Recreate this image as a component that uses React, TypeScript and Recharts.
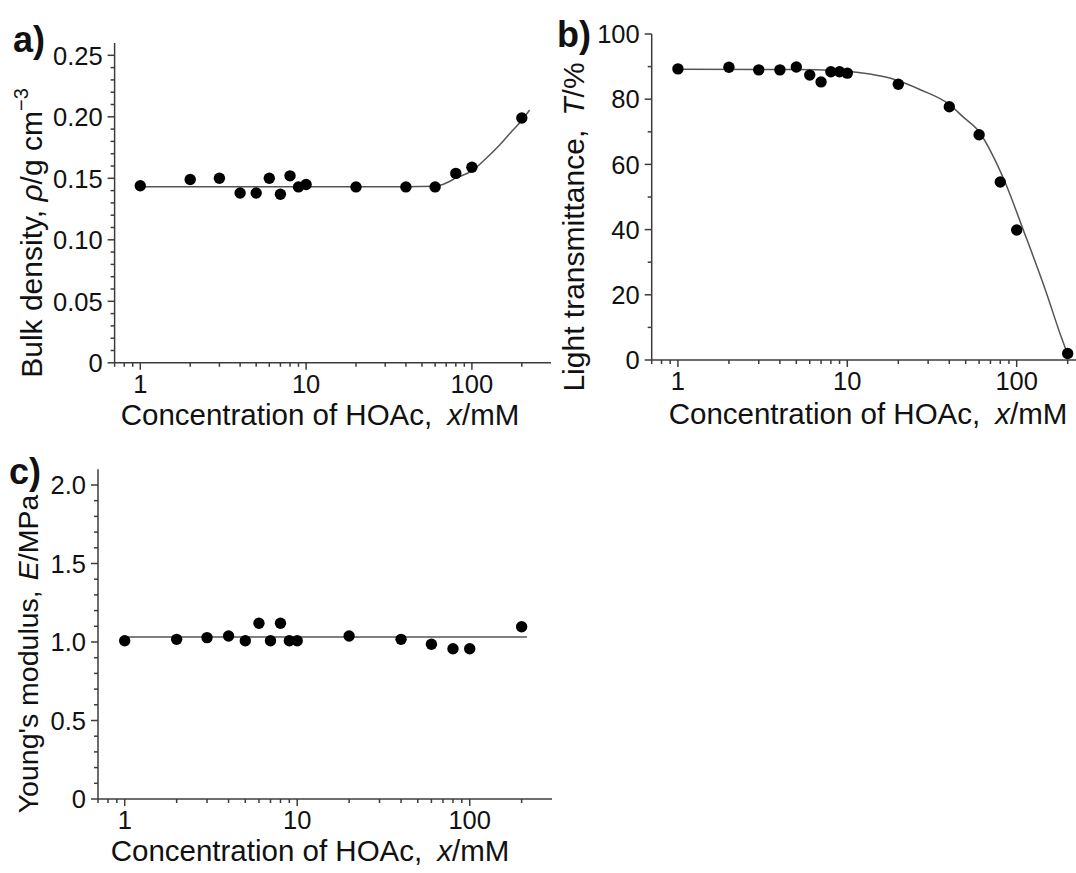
import React from 'react';
import { ComposedChart, Line, Scatter, XAxis, YAxis } from 'recharts';

const FONT = '"Liberation Sans", Arial, Helvetica, sans-serif';
const AXIS = '#3c3c3c';
const FIT = '#555555';
const TEXT = '#111111';

// ---- data ----
const concentrations = [1, 2, 3, 4, 5, 6, 7, 8, 9, 10, 20, 40, 60, 80, 100, 200];
const bulkDensity = [0.144, 0.149, 0.150, 0.138, 0.138, 0.150, 0.137, 0.152, 0.143, 0.145, 0.143, 0.143, 0.143, 0.154, 0.159, 0.199];
const transmittance = [89.3, 89.8, 89.0, 89.0, 89.9, 87.4, 85.3, 88.4, 88.4, 88.0, 84.6, 77.7, 69.1, 54.6, 39.9, 2.0];
const youngsModulus = [1.008, 1.017, 1.028, 1.038, 1.008, 1.119, 1.008, 1.119, 1.008, 1.008, 1.038, 1.017, 0.986, 0.957, 0.957, 1.097];

// fitted curves
const densityFitX = [1, 10, 40, 60, 67, 81, 100, 122, 147, 177, 199, 223];
const densityFitY = [0.1432, 0.1432, 0.1432, 0.1436, 0.1451, 0.1505, 0.156, 0.1663, 0.1771, 0.1893, 0.1968, 0.2055];
const transFitX = [1, 5, 8, 10, 13.6, 18, 27, 40, 48.4, 60, 72.8, 85.3, 109.4, 150, 180, 199];
const transFitY = [89.2, 89.1, 88.9, 88.6, 87.7, 86.4, 82.9, 78.4, 74.5, 70.0, 62.4, 54.6, 39.9, 20.5, 8.2, 2.0];
const modulusFitX = [1, 215];
const modulusFitY = [1.032, 1.032];

// ---- ticks ----
const xTicks = [0.7, 0.8, 0.9, 1, 2, 3, 4, 5, 6, 7, 8, 9, 10, 20, 30, 40, 50, 60, 70, 80, 90, 100, 200];
const xMajorTicks = [1, 10, 100];
const xTickLabels = ['1', '10', '100'];

const densityTicks = [0, 0.01, 0.02, 0.03, 0.04, 0.05, 0.06, 0.07, 0.08, 0.09, 0.1, 0.11, 0.12, 0.13, 0.14, 0.15, 0.16, 0.17, 0.18, 0.19, 0.2, 0.21, 0.22, 0.23, 0.24, 0.25];
const densityMajorTicks = [0, 0.05, 0.1, 0.15, 0.2, 0.25];
const densityTickLabels = ['0', '0.05', '0.10', '0.15', '0.20', '0.25'];

const transTicks = [0, 10, 20, 30, 40, 50, 60, 70, 80, 90, 100];
const transMajorTicks = [0, 20, 40, 60, 80, 100];
const transTickLabels = ['0', '20', '40', '60', '80', '100'];

const modulusTicks = [0, 0.1, 0.2, 0.3, 0.4, 0.5, 0.6, 0.7, 0.8, 0.9, 1.0, 1.1, 1.2, 1.3, 1.4, 1.5, 1.6, 1.7, 1.8, 1.9, 2.0];
const modulusMajorTicks = [0, 0.5, 1.0, 1.5, 2.0];
const modulusTickLabels = ['0', '0.5', '1.0', '1.5', '2.0'];

const toPoints = (xs: number[], ys: number[]) => xs.map((x, i) => ({ x, y: ys[i] }));

const findIdx = (arr: number[], v: number) => arr.findIndex((m) => Math.abs(m - v) < 1e-9);

const TICK_FONT = 25.5;
const TITLE_FONT = 30;
const XTITLE_FONT = 29.5;

const renderXTick = (p: any) => {
  const { x, y, payload } = p;
  const idx = findIdx(xMajorTicks, payload.value);
  const major = idx >= 0;
  return (
    <g>
      <line x1={x} x2={x} y1={y} y2={y + (major ? 7 : 4)} stroke={AXIS} strokeWidth={1.5} />
      {major && (
        <text x={x} y={y + 30} textAnchor="middle" fontSize={TICK_FONT} fontFamily={FONT} fill={TEXT}>
          {xTickLabels[idx]}
        </text>
      )}
    </g>
  );
};

const makeYTick = (majors: number[], labels: string[]) => (p: any) => {
  const { x, y, payload } = p;
  const idx = findIdx(majors, payload.value);
  const major = idx >= 0;
  return (
    <g>
      <line x1={x} x2={x - (major ? 7 : 4)} y1={y} y2={y} stroke={AXIS} strokeWidth={1.5} />
      {major && (
        <text x={x - 12} y={y + 9.2} textAnchor="end" fontSize={TICK_FONT} fontFamily={FONT} fill={TEXT}>
          {labels[idx]}
        </text>
      )}
    </g>
  );
};

const DotShape = (p: any) => <circle cx={p.cx} cy={p.cy} r={5.7} fill="#000" />;

const W = 1100;
const H = 873;

type PanelProps = {
  left: number;
  top: number;
  right: number;
  bottom: number;
  yDomain: [number, number];
  yTicks: number[];
  yMajors: number[];
  yLabels: string[];
  points: { x: number; y: number }[];
  fit: { x: number; y: number }[];
};

function Panel({ left, top, right, bottom, yDomain, yTicks, yMajors, yLabels, points, fit }: PanelProps) {
  return (
    <div style={{ position: 'absolute', left: 0, top: 0, width: W, height: H }}>
      <ComposedChart width={W} height={H} margin={{ top, left: left - 1, right: W - right, bottom: H - bottom - 1 }}>
        <XAxis
          dataKey="x"
          type="number"
          scale="log"
          domain={[0.7, 300]}
          allowDataOverflow
          ticks={xTicks}
          interval={0}
          tick={renderXTick}
          tickLine={false}
          tickSize={0}
          tickMargin={0}
          axisLine={{ stroke: AXIS, strokeWidth: 1.5 }}
          height={1}
        />
        <YAxis
          dataKey="y"
          type="number"
          domain={yDomain}
          allowDataOverflow
          ticks={yTicks}
          interval={0}
          tick={makeYTick(yMajors, yLabels)}
          tickLine={false}
          tickSize={0}
          tickMargin={0}
          axisLine={{ stroke: AXIS, strokeWidth: 1.5 }}
          width={1}
        />
        <Line data={fit} dataKey="y" type="monotone" stroke={FIT} strokeWidth={1.5} dot={false} isAnimationActive={false} />
        <Scatter data={points} fill="#000" shape={DotShape} isAnimationActive={false} />
      </ComposedChart>
    </div>
  );
}

export default function App() {
  return (
    <div style={{ position: 'fixed', left: 0, top: 0, width: 1076, height: 873, overflow: 'hidden', background: '#fff' }}>
      <Panel
        left={114.6}
        top={43}
        right={551}
        bottom={362.8}
        yDomain={[0, 0.26]}
        yTicks={densityTicks}
        yMajors={densityMajorTicks}
        yLabels={densityTickLabels}
        points={toPoints(concentrations, bulkDensity)}
        fit={toPoints(densityFitX, densityFitY)}
      />
      <Panel
        left={651.7}
        top={34}
        right={1097.5}
        bottom={360}
        yDomain={[0, 100]}
        yTicks={transTicks}
        yMajors={transMajorTicks}
        yLabels={transTickLabels}
        points={toPoints(concentrations, transmittance)}
        fit={toPoints(transFitX, transFitY)}
      />
      <Panel
        left={98}
        top={469.3}
        right={552}
        bottom={799}
        yDomain={[0, 2.1]}
        yTicks={modulusTicks}
        yMajors={modulusMajorTicks}
        yLabels={modulusTickLabels}
        points={toPoints(concentrations, youngsModulus)}
        fit={toPoints(modulusFitX, modulusFitY)}
      />
      <svg
        width={1076}
        height={873}
        style={{ position: 'absolute', left: 0, top: 0, pointerEvents: 'none' }}
        fontFamily={FONT}
        fill={TEXT}
      >
        <text x={13} y={52} fontSize={36} fontWeight="bold">a)</text>
        <text x={557} y={47} fontSize={36} fontWeight="bold">b)</text>
        <text x={9} y={484} fontSize={36} fontWeight="bold">c)</text>

        <text transform="translate(42,233) rotate(-90)" textAnchor="middle" fontSize={TITLE_FONT}>
          Bulk density, <tspan fontStyle="italic">ρ</tspan>/g cm<tspan dy={-14} fontSize={20}>−3</tspan>
        </text>
        <text transform="translate(584,227) rotate(-90)" textAnchor="middle" fontSize={TITLE_FONT}>
          Light transmittance,<tspan dx={14} fontStyle="italic">T</tspan>/%
        </text>
        <text transform="translate(38,654) rotate(-90)" textAnchor="middle" fontSize={28.5}>
          Young's modulus,<tspan dx={10} fontStyle="italic">E</tspan>/MPa
        </text>

        <text x={320} y={425} textAnchor="middle" fontSize={XTITLE_FONT}>
          Concentration of HOAc,<tspan dx={15} fontStyle="italic">x</tspan>/mM
        </text>
        <text x={868} y={424} textAnchor="middle" fontSize={XTITLE_FONT}>
          Concentration of HOAc,<tspan dx={15} fontStyle="italic">x</tspan>/mM
        </text>
        <text x={310} y={861} textAnchor="middle" fontSize={XTITLE_FONT}>
          Concentration of HOAc,<tspan dx={15} fontStyle="italic">x</tspan>/mM
        </text>
      </svg>
    </div>
  );
}
